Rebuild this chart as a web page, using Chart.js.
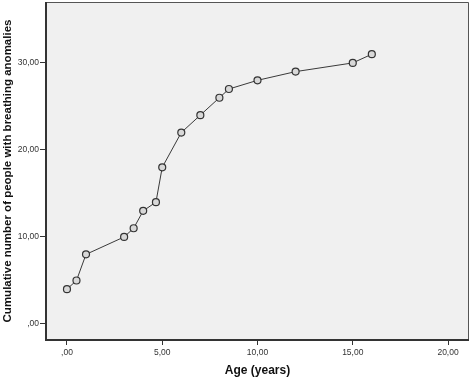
<!DOCTYPE html>
<html>
<head>
<meta charset="utf-8">
<script src="https://cdn.jsdelivr.net/npm/chart.js@4.4.0/dist/chart.umd.min.js"></script>
<style>
  html, body { margin: 0; padding: 0; background: #fff; }
  #wrap { width: 472px; height: 378px; }
</style>
</head>
<body>
<div id="wrap"><canvas id="chart" aria-label="Line Chart"></canvas></div>
<script>
// data
const ages = [0, 0.5, 1, 3, 3.5, 4, 4.67, 5, 6, 7, 8, 8.5, 10, 12, 15, 16];
const cumulative = [4, 5, 8, 10, 11, 13, 14, 18, 22, 24, 26, 27, 28, 29, 30, 31];
const xTicks = [0, 5, 10, 15, 20];
const yTicks = [0, 10, 20, 30];

const fmt = v => v === 0 ? ',00' : v.toFixed(2).replace('.', ',');

/* plot area background + frame */
const frame = {
  id: 'frame',
  beforeDatasetsDraw(chart) {
    const { ctx, chartArea: a } = chart;
    ctx.save();
    ctx.fillStyle = '#f0f0f0';
    ctx.fillRect(a.left, a.top, a.right - a.left, a.bottom - a.top);
    ctx.restore();
  },
  afterDatasetsDraw(chart) {
    const { ctx, chartArea: a } = chart;
    ctx.save();
    ctx.strokeStyle = '#555';
    ctx.lineWidth = 1;
    ctx.beginPath();
    ctx.moveTo(a.left, a.top + 0.5);
    ctx.lineTo(a.right - 0.5, a.top + 0.5);
    ctx.lineTo(a.right - 0.5, a.bottom);
    ctx.stroke();
    ctx.strokeStyle = '#333';
    ctx.lineWidth = 2;
    ctx.beginPath();
    ctx.moveTo(a.left, a.top);
    ctx.lineTo(a.left, a.bottom);
    ctx.lineTo(a.right, a.bottom);
    ctx.stroke();
    ctx.restore();
  }
};

const ctx = document.getElementById('chart');
new Chart(ctx, {
  type: 'line',
  data: {
    datasets: [{
      data: ages.map((a, i) => ({ x: a, y: cumulative[i] })),
      borderColor: '#3a3a3a',
      borderWidth: 1,
      pointRadius: 3.5,
      pointBorderWidth: 1.2,
      pointBorderColor: '#333',
      pointBackgroundColor: '#d8d8d8',
      tension: 0
    }]
  },
  plugins: [frame],
  options: {
    responsive: true,
    maintainAspectRatio: false,
    animation: false,
    layout: { autoPadding: false, padding: { top: 2, right: 3, left: 0, bottom: 0 } },
    plugins: { legend: { display: false }, tooltip: { enabled: false } },
    scales: {
      x: {
        type: 'linear',
        min: -1.1,
        max: 21.1,
        afterBuildTicks: s => { s.ticks = xTicks.map(v => ({ value: v })); },
        afterFit: s => { s.height = 38; s.paddingLeft = 0; s.paddingRight = 0; },
        grid: { display: true, drawOnChartArea: false, tickLength: 5, color: '#333' },
        border: { display: false },
        ticks: {
          callback: v => fmt(v),
          font: { family: 'Liberation Sans', size: 8.5 },
          color: '#333',
          padding: 3,
          maxRotation: 0
        },
        title: {
          display: true,
          text: 'Age (years)',
          font: { family: 'Liberation Sans', size: 12, weight: 'bold' },
          color: '#111',
          padding: { top: 4, bottom: 0 }
        }
      },
      y: {
        type: 'linear',
        min: -1.84,
        max: 37,
        afterBuildTicks: s => { s.ticks = yTicks.map(v => ({ value: v })); },
        afterFit: s => { s.width = 46; s.paddingTop = 0; s.paddingBottom = 0; },
        grid: { display: true, drawOnChartArea: false, tickLength: 6, color: '#333' },
        border: { display: false },
        ticks: {
          callback: v => fmt(v),
          font: { family: 'Liberation Sans', size: 8.5 },
          color: '#333',
          padding: 1
        },
        title: {
          display: true,
          text: 'Cumulative number of people with breathing anomalies',
          font: { family: 'Liberation Sans', size: 11.5, weight: 'bold' },
          color: '#111',
          padding: { top: 1, bottom: 0 }
        }
      }
    }
  }
});
</script>
</body>
</html>
